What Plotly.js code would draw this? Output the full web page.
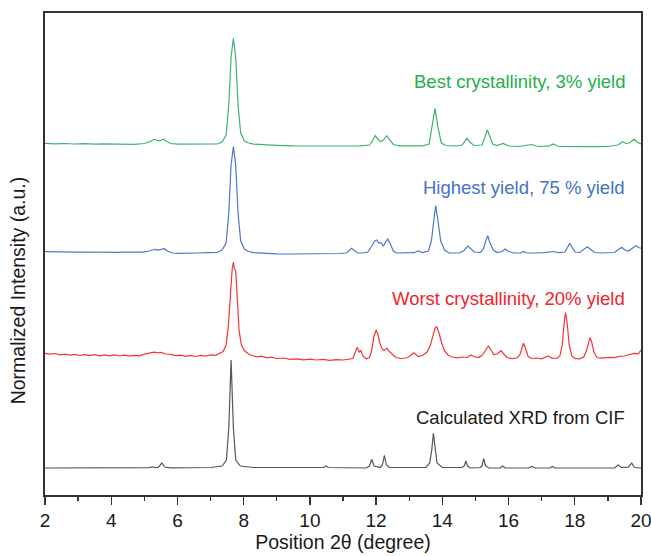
<!DOCTYPE html>
<html>
<head>
<meta charset="utf-8">
<script src="https://cdn.plot.ly/plotly-3.0.1.min.js"></script>
<style>html,body{margin:0;padding:0;background:#fff;}#chart{width:651px;height:556px;}</style>
</head>
<body>
<div id="chart"></div>
<script>
// Series names / labels
const seriesNames = ["Calculated XRD from CIF", "Worst crystallinity, 20% yield", "Highest yield, 75 % yield", "Best crystallinity, 3% yield"];

// Calculated pattern (2theta, intensity)
const calcX = [2.0,4.9,5.15,5.25,5.33,5.42,5.53,5.62,5.8,7.0,7.35,7.48,7.55,7.62,7.69,7.76,7.9,8.3,10.3,10.42,10.49,10.56,11.7,11.8,11.87,11.94,12.12,12.19,12.25,12.31,12.4,13.5,13.62,13.68,13.73,13.78,13.84,14.0,14.6,14.66,14.71,14.76,14.85,15.15,15.2,15.25,15.3,15.4,15.75,15.82,15.9,16.6,16.7,16.8,17.25,17.32,17.4,19.2,19.31,19.4,19.62,19.72,19.8,20.0];
const calcY = [0,0,0.3,1.2,0.3,0.5,5,1,0.2,0.5,2,8,40,108,40,8,2,0.5,0,0.5,2,0.5,0,2,8.5,2,0.5,3,12.7,3,0.5,0.5,5,18,34.7,18,5,0.5,0.5,2,7,2,0,0.5,2.5,9.4,2.5,0,0,2,0,0,1.5,0,0,1.5,0,0,3,0.5,0.8,5,0.5,0];

// Worst crystallinity, 20% yield
const worstX = [2.00,2.15,2.30,2.45,2.60,2.75,2.90,3.05,3.20,3.35,3.50,3.65,3.80,3.95,4.10,4.25,4.40,4.55,4.70,4.85,5.00,5.15,5.30,5.40,5.50,5.65,5.80,5.95,6.10,6.25,6.40,6.55,6.70,6.85,7.00,7.15,7.28,7.38,7.47,7.54,7.60,7.65,7.69,7.72,7.76,7.80,7.86,7.93,8.03,8.15,8.25,8.40,8.55,8.70,8.85,9.00,9.20,9.40,9.60,9.80,10.00,10.20,10.40,10.60,10.80,11.00,11.15,11.30,11.36,11.43,11.49,11.54,11.60,11.70,11.80,11.87,11.93,12.00,12.05,12.11,12.17,12.23,12.28,12.33,12.40,12.50,12.60,12.75,12.90,13.00,13.08,13.14,13.20,13.28,13.40,13.54,13.64,13.72,13.78,13.83,13.90,13.98,14.07,14.17,14.30,14.45,14.60,14.75,14.86,14.95,15.10,15.21,15.31,15.39,15.47,15.55,15.65,15.72,15.77,15.84,15.95,16.10,16.25,16.34,16.41,16.45,16.51,16.59,16.70,16.85,17.00,17.10,17.20,17.30,17.45,17.55,17.62,17.68,17.72,17.77,17.83,17.91,18.00,18.15,18.27,18.35,18.41,18.46,18.51,18.58,18.66,18.75,18.90,19.05,19.20,19.35,19.50,19.65,19.80,19.92,20.00];
const worstY = [1.7,0.8,1.5,0.2,0.9,-0.2,0.6,-0.5,0.4,-0.6,0.3,-0.8,0.1,-0.9,0.2,-1.0,-0.1,-1.2,-0.3,-0.9,0.8,1.5,2.9,2.2,2.6,1.0,0.6,-0.6,-0.2,-1.3,-0.4,-1.5,-0.3,-1.1,0.2,-0.4,1.5,3.5,10,30,60,85,93,86,84,55,25,10,4,1.0,-0.5,-1.8,-1.2,-2.8,-2.2,-3.5,-3.0,-4.3,-3.8,-4.9,-4.2,-5.0,-4.4,-5.3,-4.6,-5.0,-4.2,-3.5,2,7.7,3,4.5,-1,-3.8,-2.5,5,18,25,21,12,7,4.5,5.5,6.7,3.5,0,-2.5,-3.5,-3.0,-1.5,0.5,2.3,0.5,-1.5,-0.5,3,10,20,27,28.3,22,12,4,0,-2.0,-2.8,-2.0,-2.5,0,-1.5,-2.5,0,5,9,5,0.5,1,3.5,4.3,1.5,-2.5,-3.7,-3.0,0,7,11.7,7,-1.5,-3.5,-3.0,-3.8,-2.5,-1,-3.2,-3.5,-1,10,32,42.3,32,10,-1,-3.3,-3.8,-2,4,13,17.3,13,3,-2,-3.2,-2.8,-2.3,-2.6,-1.4,-1.0,0.2,1.7,1.2,5];

// Highest yield, 75 % yield
const highX = [2.0,2.3,2.6,2.9,3.2,3.5,3.8,4.1,4.4,4.7,4.95,5.15,5.25,5.32,5.42,5.52,5.60,5.70,5.85,6.0,6.3,6.6,6.9,7.2,7.35,7.47,7.55,7.62,7.69,7.76,7.83,7.91,8.02,8.15,8.3,8.6,9.0,9.5,10.0,10.5,10.9,11.1,11.19,11.26,11.34,11.45,11.6,11.75,11.87,11.96,12.02,12.08,12.14,12.22,12.29,12.35,12.43,12.52,12.62,12.9,13.15,13.27,13.4,13.58,13.67,13.74,13.8,13.87,13.95,14.07,14.2,14.5,14.64,14.77,14.86,14.97,15.15,15.24,15.31,15.37,15.44,15.54,15.65,15.8,15.9,16.0,16.15,16.35,16.45,16.55,16.8,17.1,17.36,17.5,17.7,17.79,17.85,17.91,18.01,18.15,18.29,18.38,18.46,18.6,18.8,19.0,19.2,19.34,19.42,19.51,19.62,19.75,19.85,19.93,20.0];
const highY = [1.3,1.0,1.2,0.8,1.0,0.7,0.9,0.6,0.8,0.5,0.9,2,3.2,3.7,2.8,3.8,4.3,2,0,-0.3,0.2,0,0.3,0.5,3,10,40,88,106.3,88,40,12,4,1.5,0.3,-0.3,-0.8,-1,-1,-0.8,-0.5,0,3,4.7,2.5,0,0,1,7,12,13,10,10.5,7,11,14,9,2,0,0,0.3,2,0.5,2,12,32,47.3,32,12,3,0,0,2,7,4,1,0.5,4,12,17.3,10,3,0.5,1.5,4,1.5,0,0,1.5,0,0,0.3,1.5,0.3,1,6,9.7,6,1,0.5,4,6.3,4,0.5,0,0,0.5,4,5.7,3,2,5,7.3,5.5,4.7];

// Best crystallinity, 3% yield
const bestX = [2.0,2.3,2.6,2.9,3.2,3.5,3.8,4.1,4.4,4.7,5.0,5.15,5.25,5.32,5.4,5.47,5.52,5.57,5.65,5.8,6.0,6.3,6.6,6.9,7.2,7.35,7.47,7.55,7.62,7.69,7.76,7.83,7.91,8.02,8.15,8.3,8.6,9.0,9.5,10.0,10.5,11.0,11.5,11.8,11.89,11.97,12.05,12.13,12.22,12.32,12.41,12.52,12.7,13.0,13.4,13.6,13.69,13.78,13.87,13.97,14.1,14.4,14.6,14.74,14.83,14.95,15.2,15.29,15.36,15.43,15.52,15.65,15.84,16.0,16.3,16.7,16.9,17.2,17.36,17.5,17.8,18.2,18.6,19.0,19.3,19.45,19.55,19.65,19.79,19.9,20.0];
const bestY = [1.7,1.2,1.5,1.0,1.4,0.9,1.2,0.8,1.1,0.7,1.5,3,5,5.7,4.3,4,5,5.7,4,1.5,0.8,1,0.6,0.8,1,3,10,40,88,106.7,88,40,12,4,2,0.8,0.2,-0.3,-0.8,-1,-1,-1,-0.8,0,4,9.3,6,3.3,5,9.3,5,0.5,-0.8,-1,-0.8,1,17,36.7,17,2,-0.5,-1,0,6.7,3,-0.5,0,9,15,9,1,-0.5,1.5,-1,-1.5,0.5,-1.5,-1.2,1,-1.5,-1.7,-1.8,-1.7,-1.5,0,3.3,1.5,2,5.7,2.5,1];

// Vertical stacking offsets (a.u.) for each pattern
const offsets = [27, 140, 242, 350];
const lineColors = ["#555555", "#f2353b", "#4a78c8", "#3cb46c"];
const textColors = ["#1a1a1a", "#f2232b", "#4472c4", "#22b04e"];
const labelY = [78, 196.7, 307.3, 413.3];

const xs = [calcX, worstX, highX, bestX];
const ys = [calcY, worstY, highY, bestY];

const traces = xs.map((x, i) => ({
  type: "scatter",
  mode: "lines",
  x: x,
  y: ys[i].map(v => v + offsets[i]),
  name: seriesNames[i],
  line: {color: lineColors[i], width: 1.2},
  hoverinfo: "skip"
}));

const ff = "'Liberation Sans', Arial, sans-serif";

const annotations = seriesNames.map((t, i) => ({
  text: t, xref: "paper", yref: "y", x: 0.976, y: labelY[i],
  xanchor: "right", yanchor: "middle", showarrow: false,
  font: {family: ff, size: 18.5, color: textColors[i]}
}));
// y-axis title
annotations.push({
  text: "Normalized Intensity (a.u.)", xref: "paper", yref: "paper",
  x: -0.045, y: 0.425, xanchor: "center", yanchor: "middle",
  textangle: -90, showarrow: false,
  font: {family: ff, size: 19.5, color: "#1a1a1a"}
});

const layout = {
  width: 651, height: 556,
  margin: {l: 45, r: 10, t: 13, b: 61},
  paper_bgcolor: "#fff", plot_bgcolor: "#fff",
  showlegend: false,
  font: {family: ff, color: "#1a1a1a"},
  xaxis: {
    range: [2, 20], dtick: 2, tick0: 2,
    ticks: "outside", ticklen: 8, tickwidth: 1.3, tickcolor: "#333",
    minor: {dtick: 1, ticks: "outside", ticklen: 4, tickwidth: 1.3, tickcolor: "#333"},
    showline: true, linecolor: "#333", linewidth: 1.6, mirror: true,
    showgrid: false, zeroline: false,
    ticklabeloverflow: "allow",
    tickfont: {family: ff, size: 19, color: "#1a1a1a"},
    title: {text: "Position 2θ (degree)", font: {family: ff, size: 19.5, color: "#1a1a1a"}, standoff: 5}
  },
  yaxis: {
    range: [0, 482],
    showticklabels: false, ticks: "",
    showline: true, linecolor: "#333", linewidth: 1.6, mirror: true,
    showgrid: false, zeroline: false
  },
  annotations: annotations
};

Plotly.newPlot("chart", traces, layout, {displayModeBar: false, staticPlot: true});
</script>
</body>
</html>
